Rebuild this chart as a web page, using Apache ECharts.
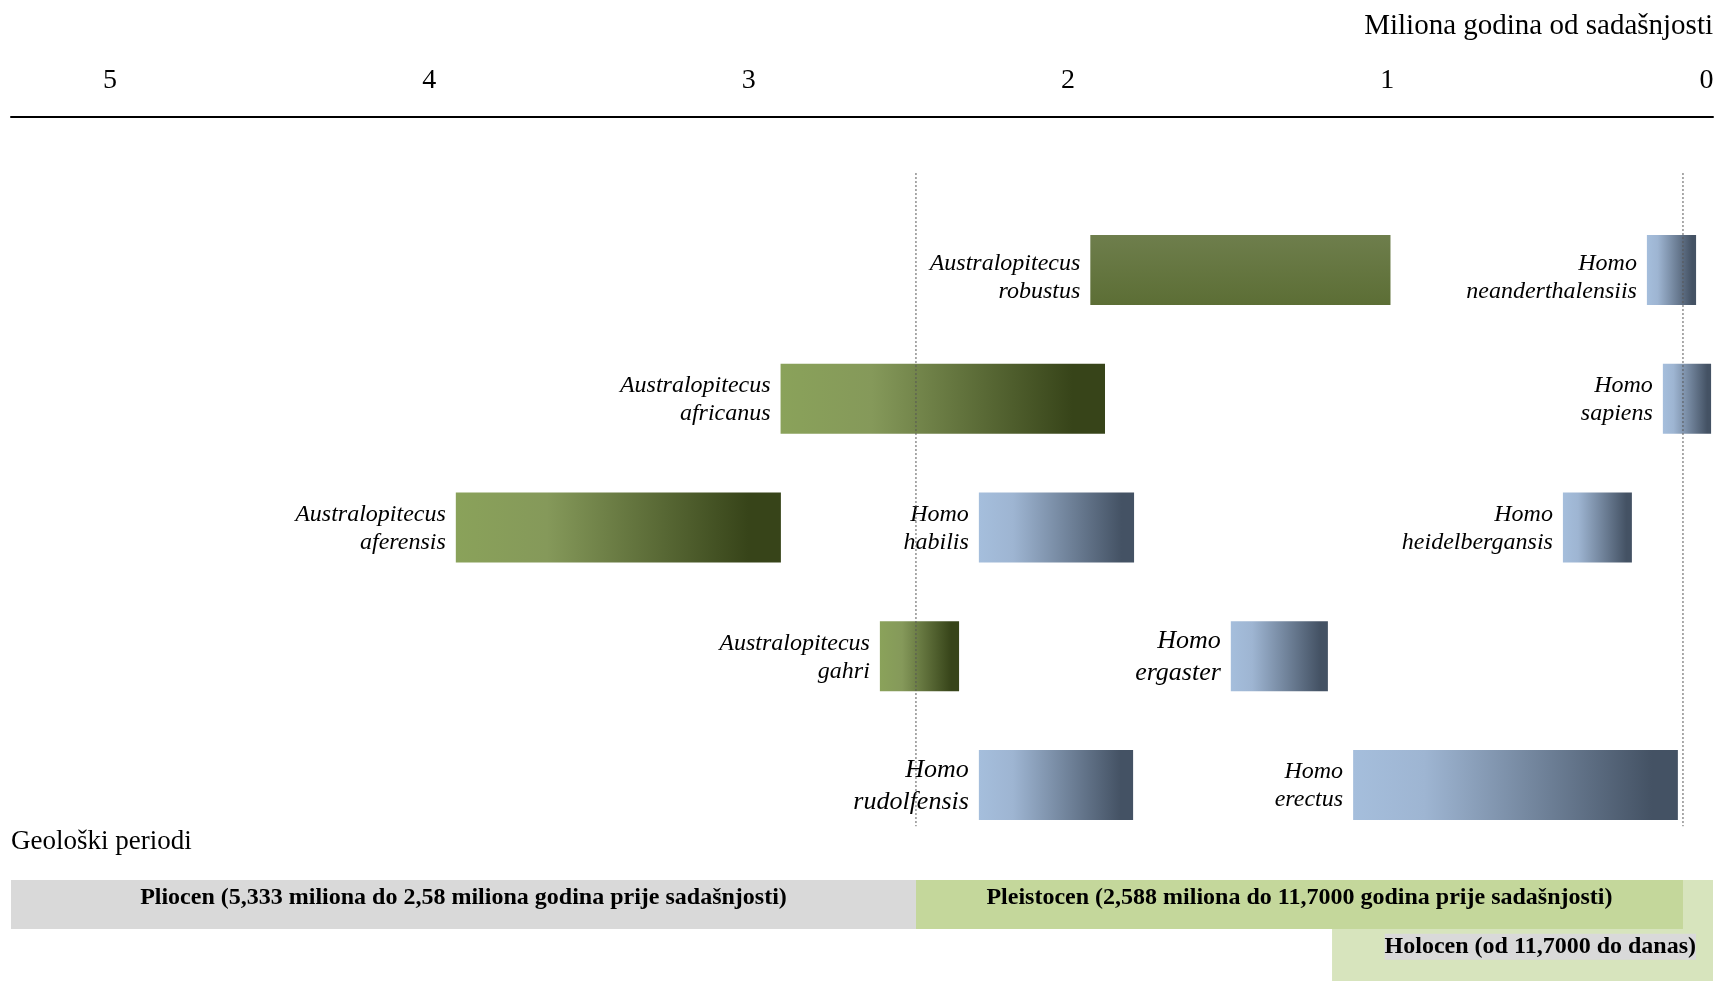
<!DOCTYPE html>
<html>
<head>
<meta charset="utf-8">
<title>Hominini - vremenska crta</title>
<script src="https://cdn.jsdelivr.net/npm/echarts@6/dist/echarts.min.js"></script>
<style>
  html, body { margin: 0; padding: 0; background: #fff; }
  #chart { width: 1720px; height: 981px; }
</style>
</head>
<body>
<div id="chart"></div>
<script>
// vrste: naziv, pocetak i kraj (milioni godina), red, rod
const speciesNames = [
  'Australopitecus\nrobustus', 'Homo\nneanderthalensiis',
  'Australopitecus\nafricanus', 'Homo\nsapiens',
  'Australopitecus\naferensis', 'Homo\nhabilis', 'Homo\nheidelbergansis',
  'Australopitecus\ngahri', 'Homo\nergaster',
  'Homo\nrudolfensis', 'Homo\nerectus'
];
const speciesStart = [1.93, 0.187, 2.90, 0.137, 3.917, 2.279, 0.45, 2.589, 1.49, 2.279, 1.107];
const speciesEnd   = [0.99, 0.033, 1.884, -0.014, 2.899, 1.793, 0.234, 2.341, 1.186, 1.796, 0.09];
const speciesRow   = [0, 0, 1, 1, 2, 2, 2, 3, 3, 4, 4];
const speciesGenus = ['A', 'H', 'A', 'H', 'A', 'H', 'H', 'A', 'H', 'H', 'H'];
const rowNames = ['r1', 'r2', 'r3', 'r4', 'r5'];

// granice geoloskih perioda (isprekidane linije)
const boundaryMa = [2.476, 0.074];

// geoloski periodi
const periodNames = [
  'Holocen (od 11,7000 do danas)',
  'Pliocen (5,333 miliona do 2,58 miliona godina prije sadašnjosti)',
  'Pleistocen (2,588 miliona do 11,7000 godina prije sadašnjosti)'
];
const periodStart = [1.173, 5.31, 2.476];
const periodEnd   = [-0.02, 2.476, 0.074];
const periodLaneFrom = [0, 0, 0];
const periodLaneTo   = [1, 0, 0];
const periodLabelLane = [1, 0, 0];
const laneNames = ['l1', 'l2'];

const tickValues = [0, 1, 2, 3, 4, 5];

const FONT = "'Liberation Serif', 'Times New Roman', serif";
const BAR_FRAC = 0.544;
const periodColors = ['#D7E4BD', '#D9D9D9', '#C4D79B'];

function genusFill(i) {
  if (i === 0) {
    // robustus - gotovo jednobojan, blagi vertikalni prelaz
    return new echarts.graphic.LinearGradient(0, 0, 0, 1, [
      { offset: 0, color: '#6E7E4C' },
      { offset: 1, color: '#5C6E35' }
    ]);
  }
  if (speciesGenus[i] === 'A') {
    return new echarts.graphic.LinearGradient(0, 0, 1, 0, [
      { offset: 0, color: '#8AA25A' },
      { offset: 0.28, color: '#85995A' },
      { offset: 0.9, color: '#374419' },
      { offset: 1, color: '#374419' }
    ]);
  }
  return new echarts.graphic.LinearGradient(0, 0, 1, 0, [
    { offset: 0, color: '#A5BEDC' },
    { offset: 0.22, color: '#9EB5D2' },
    { offset: 0.92, color: '#445264' },
    { offset: 1, color: '#445264' }
  ]);
}

// veci font za dvije oznake kao na originalu
const bigLabel = { 'Homo\nrudolfensis': true, 'Homo\nergaster': true };

const chart = echarts.init(document.getElementById('chart'));

const option = {
  animation: false,
  title: [
    {
      text: 'Miliona godina od sadašnjosti',
      right: 7,
      top: 12,
      padding: 0,
      textStyle: { fontFamily: FONT, fontSize: 29, fontWeight: 'normal', color: '#000' }
    },
    {
      text: 'Geološki periodi',
      left: 11,
      top: 828,
      padding: 0,
      textStyle: { fontFamily: FONT, fontSize: 27, fontWeight: 'normal', color: '#000' }
    }
  ],
  grid: [
    { left: 11, right: 7, top: 205.6, height: 643.8 },
    { left: 11, right: 7, top: 880, height: 101 }
  ],
  xAxis: [
    {
      gridIndex: 0,
      type: 'value',
      inverse: true,
      min: -0.02,
      max: 5.31,
      position: 'top',
      offset: 88.6,
      axisLine: { show: true, lineStyle: { color: '#000', width: 2 } },
      axisTick: { show: false },
      splitLine: { show: false },
      axisLabel: {
        customValues: tickValues,
        margin: 36,
        verticalAlign: 'middle',
        fontFamily: FONT,
        fontSize: 28,
        color: '#000'
      }
    },
    {
      gridIndex: 1,
      type: 'value',
      inverse: true,
      min: -0.02,
      max: 5.31,
      show: false
    }
  ],
  yAxis: [
    { gridIndex: 0, type: 'category', data: rowNames, inverse: true, show: false },
    { gridIndex: 1, type: 'category', data: laneNames, inverse: true, show: false }
  ],
  series: [
    {
      name: 'vrste',
      type: 'custom',
      xAxisIndex: 0,
      yAxisIndex: 0,
      z: 2,
      data: speciesNames.map((n, i) => [speciesStart[i], speciesEnd[i], speciesRow[i]]),
      renderItem: function (params, api) {
        const i = params.dataIndex;
        const p0 = api.coord([api.value(0), api.value(2)]);
        const p1 = api.coord([api.value(1), api.value(2)]);
        const h = api.size([0, 1])[1] * BAR_FRAC;
        const big = bigLabel[speciesNames[i]];
        return {
          type: 'rect',
          shape: {
            x: Math.min(p0[0], p1[0]),
            y: p0[1] - h / 2,
            width: Math.abs(p1[0] - p0[0]),
            height: h
          },
          style: { fill: genusFill(i) },
          textContent: {
            style: {
              text: speciesNames[i],
              fontFamily: FONT,
              fontStyle: 'italic',
              fontSize: big ? 26 : 24,
              lineHeight: big ? 32 : 28,
              fill: '#000',
              align: 'right'
            }
          },
          // gornji red je na originalu malo spusten
          textConfig: { position: 'left', distance: 10, offset: [0, speciesRow[i] === 0 ? 8 : 1] }
        };
      }
    },
    {
      name: 'granice',
      type: 'custom',
      xAxisIndex: 0,
      yAxisIndex: 0,
      z: 5,
      data: boundaryMa.map(v => [v]),
      renderItem: function (params, api) {
        const band = api.size([0, 1])[1];
        const top = api.coord([api.value(0), 0]);
        const bottom = api.coord([api.value(0), rowNames.length - 1]);
        return {
          type: 'line',
          shape: { x1: top[0], y1: top[1] - band * 0.753, x2: top[0], y2: bottom[1] + band * 0.32 },
          style: { stroke: '#555', lineWidth: 1, lineDash: [2, 2] }
        };
      }
    },
    {
      name: 'periodi',
      type: 'custom',
      xAxisIndex: 1,
      yAxisIndex: 1,
      data: periodNames.map((n, i) => [periodStart[i], periodEnd[i], periodLaneFrom[i], periodLaneTo[i]]),
      renderItem: function (params, api) {
        const i = params.dataIndex;
        const band = api.size([0, 1])[1];
        const a = api.coord([api.value(0), api.value(2)]);
        const b = api.coord([api.value(1), api.value(3)]);
        const x = Math.min(a[0], b[0]);
        const w = Math.abs(b[0] - a[0]);
        const y = a[1] - band / 2;
        const hgt = (b[1] + band / 2) - y - (periodLaneTo[i] === 0 ? 1.5 : 0);
        const labelY = api.coord([api.value(1), periodLabelLane[i]])[1];
        const holocene = periodLabelLane[i] === 1;
        return {
          type: 'group',
          children: [
            {
              type: 'rect',
              shape: { x: x, y: y, width: w, height: hgt },
              style: { fill: periodColors[i] }
            },
            {
              type: 'text',
              x: holocene ? x + w - 17 : x + w / 2,
              y: holocene ? labelY - 9 : labelY - 7,
              style: {
                text: periodNames[i],
                fontFamily: FONT,
                fontWeight: 'bold',
                fontSize: 24,
                fill: '#000',
                align: holocene ? 'right' : 'center',
                verticalAlign: 'middle',
                backgroundColor: holocene ? '#D9D9D9' : null,
                padding: holocene ? [1, 0] : 0
              }
            }
          ]
        };
      }
    }
  ]
};

chart.setOption(option);
window.addEventListener('resize', () => chart.resize());
</script>
</body>
</html>
